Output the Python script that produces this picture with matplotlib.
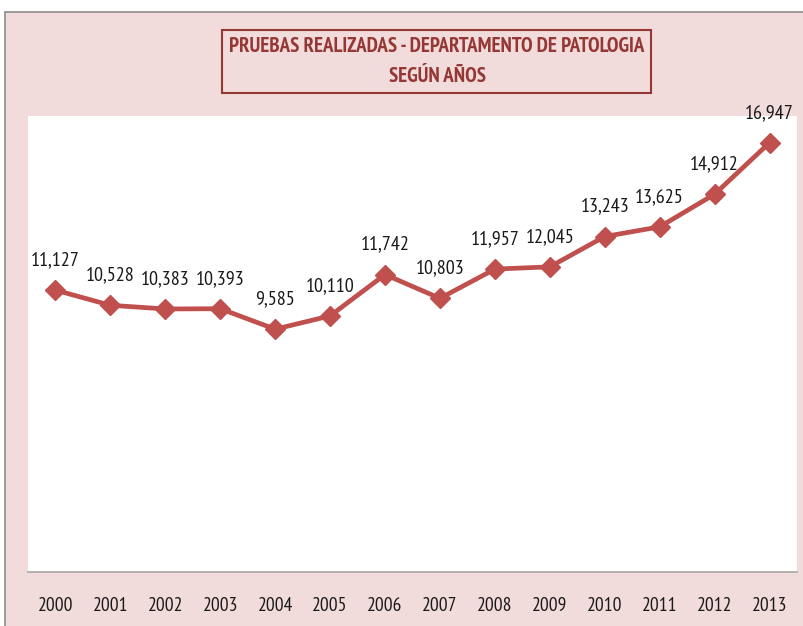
from matplotlib import pyplot as plt
from matplotlib.patches import Rectangle

years = ['2000', '2001', '2002', '2003', '2004', '2005', '2006',
         '2007', '2008', '2009', '2010', '2011', '2012', '2013']
tests = [11127, 10528, 10383, 10393, 9585, 10110, 11742,
         10803, 11957, 12045, 13243, 13625, 14912, 16947]
title_lines = ['PRUEBAS REALIZADAS - DEPARTAMENTO DE PATOLOGIA', 'SEGÚN AÑOS']

# narrow face to mimic the tall, squeezed Calibri of the original
plt.rcParams['font.family'] = ['PT Sans Narrow', 'Carlito', 'DejaVu Sans']

W, H = 804, 626
fig = plt.figure(figsize=[W / 100, H / 100], dpi=100)
fig.patch.set_facecolor('white')

# pink chart area with gray border (cut off at the right and bottom)
fig.patches.append(Rectangle((5 / W, -0.05), 1.1, 1 - 12 / H + 0.05,
                             transform=fig.transFigure, facecolor='#F2DCDB',
                             edgecolor='#8C8C8C', linewidth=1.2, zorder=-10))

ax = fig.add_axes([28 / W, 1 - 572 / H, (797 - 28) / W, (572 - 116) / H])
ax.set_facecolor('white')

x = list(range(len(years)))
ax.plot(x, tests, color='#C0504D', linewidth=3.4, marker='D', markersize=10,
        markerfacecolor='#C0504D', markeredgecolor='#C0504D', zorder=3)

for xi, v in zip(x, tests):
  ax.annotate(f'{v:,}', xy=(xi, v), xytext=(0, 15), textcoords='offset points',
              ha='center', va='bottom', fontsize=14.5, color='#1a1a1a')

ax.set_xlim(-0.5, len(years) - 0.5)
ax.set_ylim(0, 18000)
ax.set_xticks(x)
ax.set_xticklabels(years, fontsize=14, color='#1a1a1a')
ax.tick_params(axis='x', length=0, pad=18)
ax.set_yticks([])

for s in ['top', 'left', 'right']:
  ax.spines[s].set_visible(False)
ax.spines['bottom'].set_color('#A6A6A6')
ax.spines['bottom'].set_linewidth(1.2)

# title box
fig.patches.append(Rectangle((222 / W, 1 - 93 / H), (651 - 222) / W, 63 / H,
                             transform=fig.transFigure, facecolor='none',
                             edgecolor='#953735', linewidth=1.5, zorder=2))
fig.text(437 / W, 1 - 46 / H, title_lines[0], ha='center', va='center',
         fontsize=15, fontweight='bold', color='#953735')
fig.text(437 / W, 1 - 76 / H, title_lines[1], ha='center', va='center',
         fontsize=15, fontweight='bold', color='#953735')

fig.savefig('out.png', dpi=100)
